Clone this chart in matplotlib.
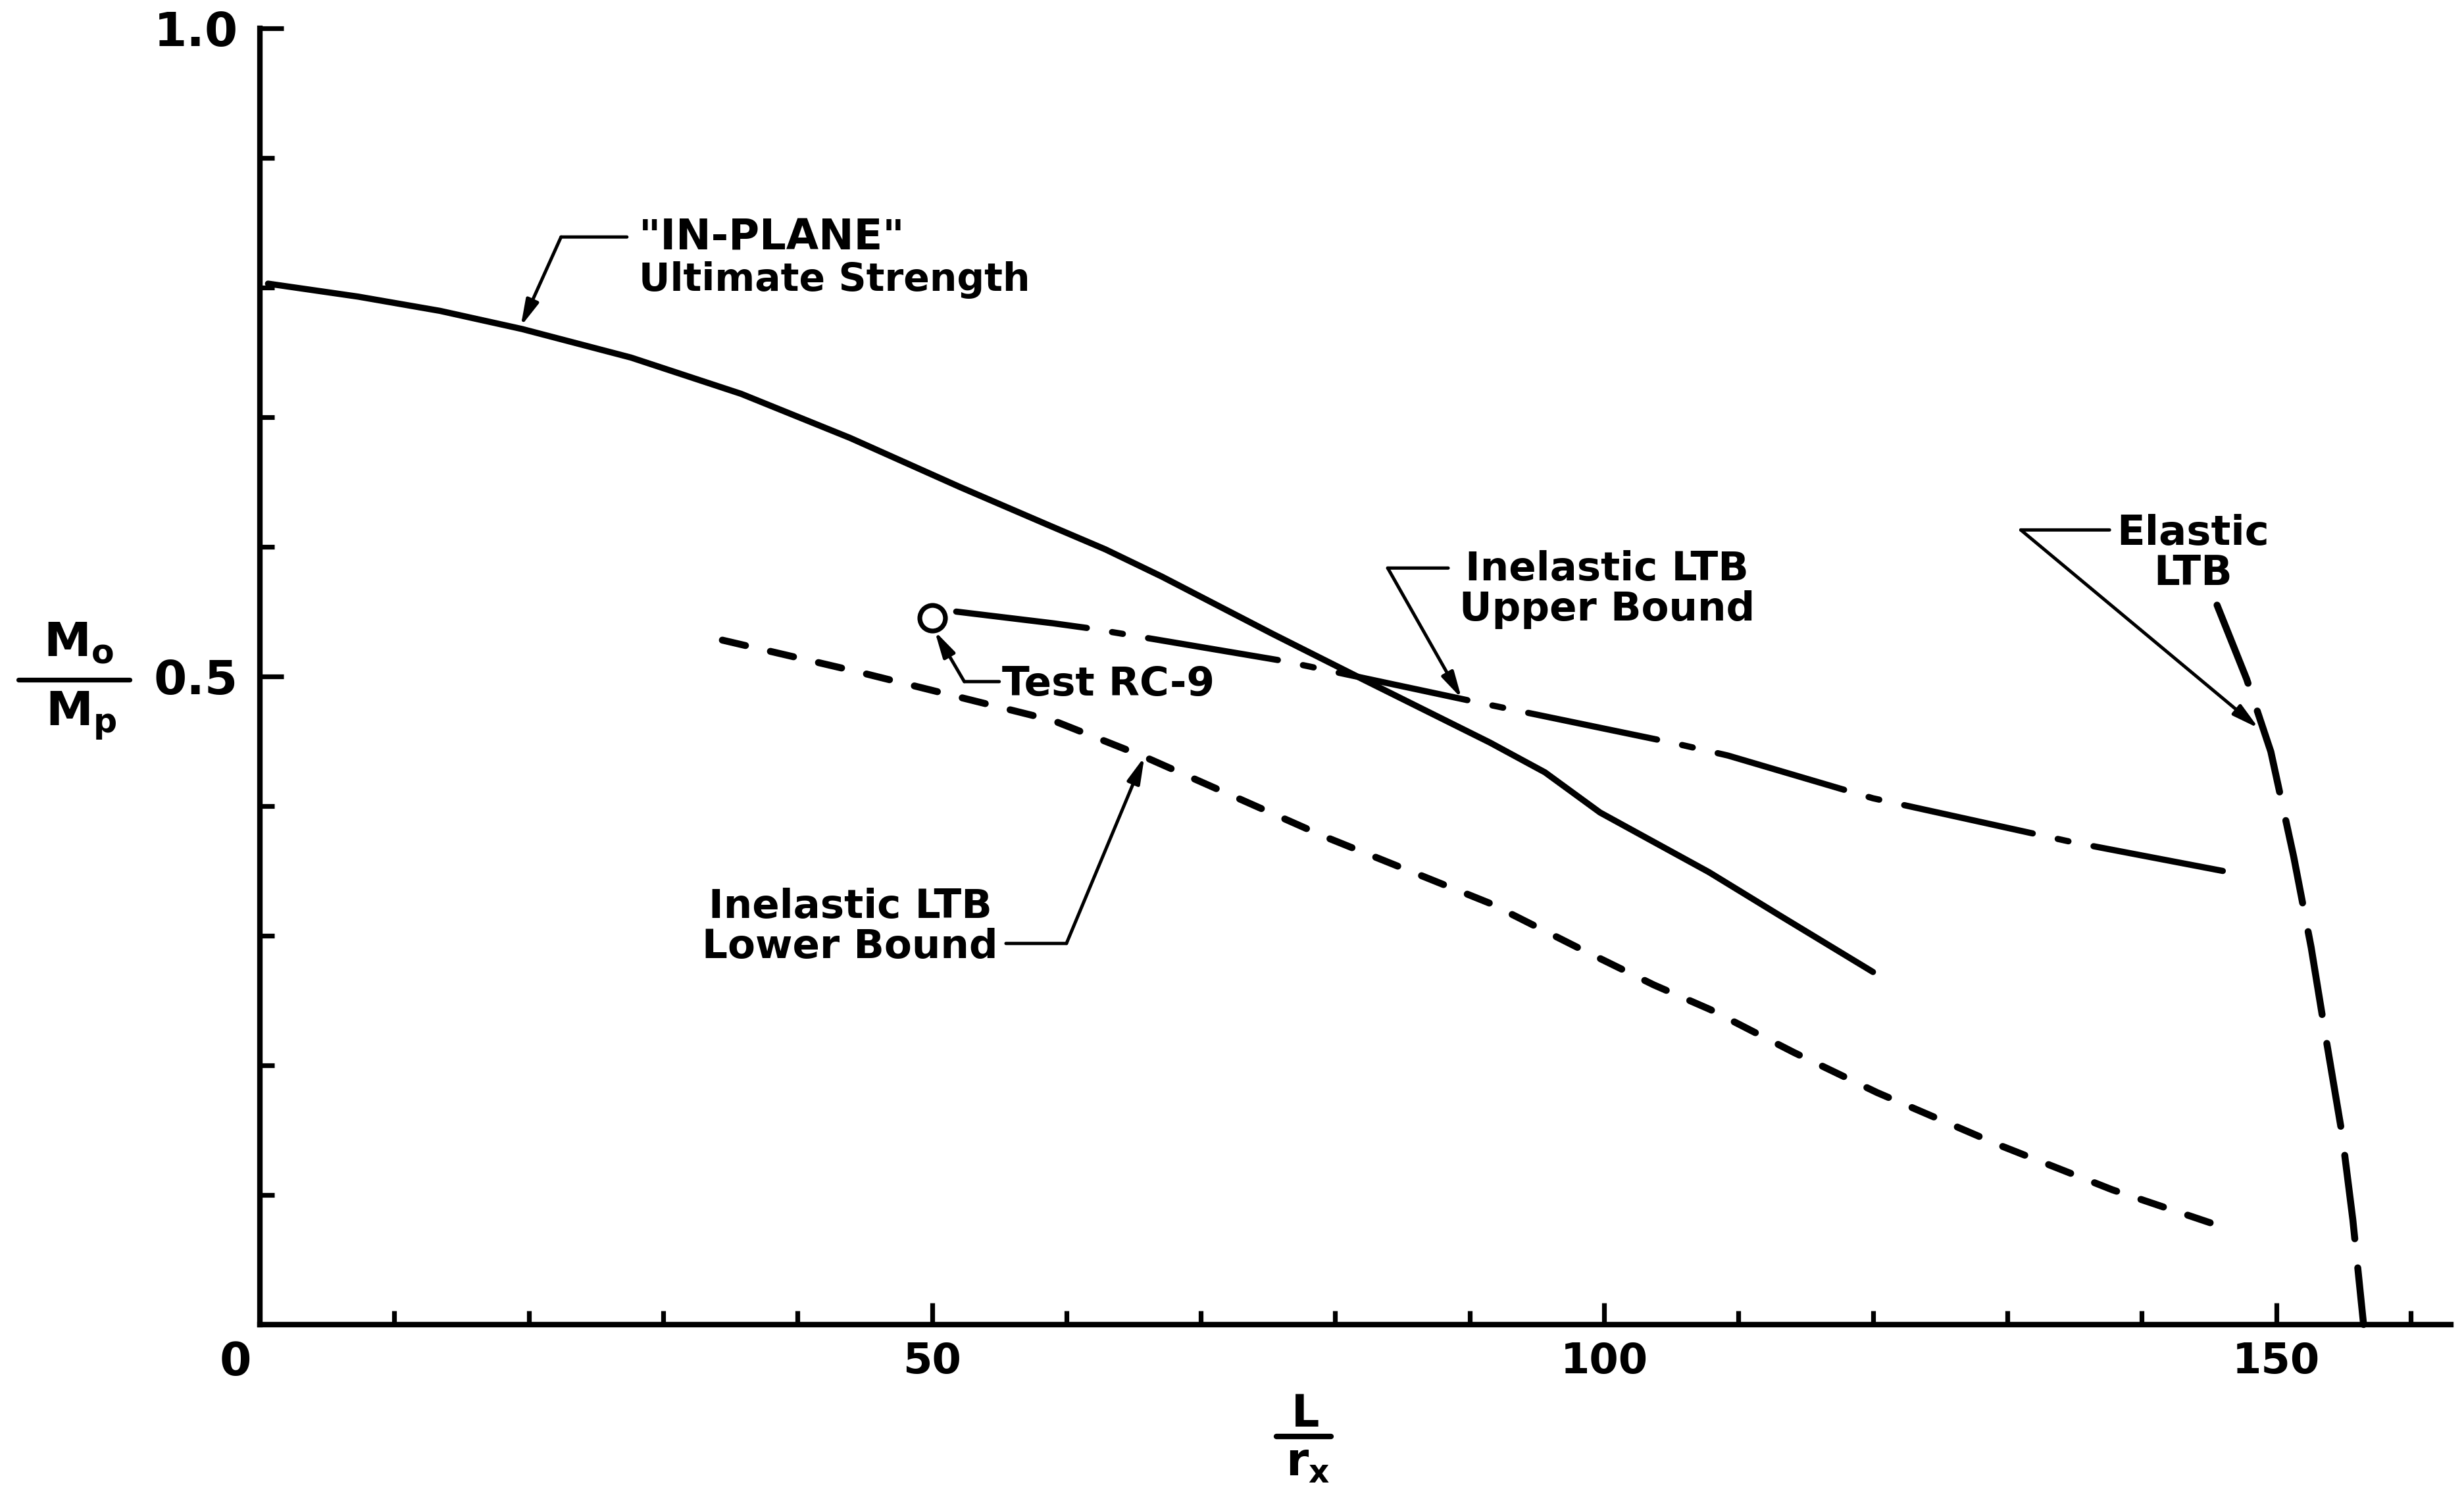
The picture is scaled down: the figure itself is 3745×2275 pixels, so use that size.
import numpy as np
import matplotlib
matplotlib.use("Agg")
import matplotlib.pyplot as plt
from matplotlib.lines import Line2D
from matplotlib.ticker import FixedLocator

plt.rcParams['font.family'] = ['DejaVu Sans']
plt.rcParams['font.weight'] = 'bold'
plt.rcParams['lines.scale_dashes'] = False

# curves (x = L/r_x, y = Mo/Mp)
inplane_x = [0.6, 7.3, 13.4, 19.5, 27.6, 35.8, 43.9, 52.1, 58.6, 62.9, 67.1, 75.3, 82.2,
             91.5, 95.6, 99.7, 107.8, 113.0, 120.0]
inplane_y = [0.803, 0.793, 0.782, 0.768, 0.746, 0.718, 0.684, 0.646, 0.617, 0.598, 0.577,
             0.533, 0.497, 0.449, 0.426, 0.395, 0.349, 0.316, 0.272]

upper_x = [51.8, 59.0, 61.8, 76.1, 82.0, 91.5, 105.0, 109.2, 120.0, 134.9, 146.5]
upper_y = [0.550, 0.541, 0.537, 0.512, 0.499, 0.478, 0.449, 0.439, 0.406, 0.372, 0.349]

lower_x = [34.4, 44.3, 59.0, 65.8, 79.3, 91.5, 98.2, 103.7, 107.9, 114.1, 120.3, 129.5,
           137.8, 146.1]
lower_y = [0.528, 0.504, 0.466, 0.438, 0.376, 0.325, 0.290, 0.262, 0.243, 0.210, 0.179,
           0.138, 0.104, 0.075]

elastic_x = [145.6, 147.8, 149.6, 151.3, 152.6, 153.7, 154.9, 155.7, 156.5]
elastic_y = [0.555, 0.498, 0.442, 0.361, 0.291, 0.221, 0.147, 0.081, 0.0]

test_x = [50.0]
test_y = [0.545]

# axis ticks
x_major = [50, 100, 150]
x_major_labels = ['50', '100', '150']
x_minor = [10, 20, 30, 40, 60, 70, 80, 90, 110, 120, 130, 140, 160]
y_major = [0.5, 1.0]
y_major_labels = ['0.5', '1.0']
y_minor = [0.1, 0.2, 0.3, 0.4, 0.6, 0.7, 0.8, 0.9]

fig = plt.figure(figsize=(18.725, 11.375), dpi=200)
ax = fig.add_axes([0.1055, 0.1152, 0.8892, 0.8659])
ax.set_xlim(0, 163.0)
ax.set_ylim(0, 1.0)

# hide the top and right axes
for side in ('top', 'right'):
    ax.spines[side].set_visible(False)
for side in ('left', 'bottom'):
    ax.spines[side].set_linewidth(3)

ax.xaxis.set_major_locator(FixedLocator(x_major))
ax.xaxis.set_minor_locator(FixedLocator(x_minor))
ax.set_xticklabels(x_major_labels)
ax.yaxis.set_major_locator(FixedLocator(y_major))
ax.yaxis.set_minor_locator(FixedLocator(y_minor))
ax.set_yticklabels(y_major_labels)
ax.tick_params(axis='both', which='both', direction='in', width=2.6, color='black')
ax.tick_params(axis='x', which='major', length=12, pad=9, labelsize=23)
ax.tick_params(axis='x', which='minor', length=7.5)
ax.tick_params(axis='y', which='major', length=13, pad=12, labelsize=26)
ax.tick_params(axis='y', which='minor', length=8)
ax.text(-1.8, -0.029, '0', fontsize=25, ha='center', va='center', clip_on=False)

# the curves
ax.plot(inplane_x, inplane_y, color='black', lw=3.4, solid_capstyle='round')
ax.plot(upper_x, upper_y, color='black', lw=3.4, dash_capstyle='round',
        linestyle=(0, (72, 14, 6, 14)))
ax.plot(lower_x, lower_y, color='black', lw=3.8, dash_capstyle='round',
        linestyle=(0, (13, 14)))
ax.plot(elastic_x, elastic_y, color='black', lw=3.8, dash_capstyle='round',
        linestyle=(0, (46, 16)), clip_on=False)
ax.plot(test_x, test_y, 'o', ms=14, mfc='white', mec='black', mew=2.6)

# labels with leaders
arrow = dict(arrowstyle='-|>,head_length=0.6,head_width=0.15', mutation_scale=20,
             lw=1.8, color='black', shrinkA=0, shrinkB=0)
leader = dict(arrowstyle='-', lw=1.8, color='black', shrinkA=0, shrinkB=0)


def callout(lines, text_x, base_y, ha, size, elbow, leader_end, tip):
    for s, yy, fs in zip(lines, base_y, size):
        ax.text(text_x, yy, s, ha=ha, va='baseline', fontsize=fs, color='black')
    ax.annotate('', xy=leader_end, xytext=elbow, arrowprops=leader)
    ax.annotate('', xy=tip, xytext=elbow, arrowprops=arrow)


callout(['"IN-PLANE"', 'Ultimate Strength'], 28.2, [0.829, 0.7975], 'left', [23, 21],
        (22.4, 0.839), (27.3, 0.839), (19.4, 0.770))
callout(['Test RC-9'], 55.2, [0.4853], 'left', [22],
        (52.4, 0.496), (55.0, 0.496), (50.2, 0.535))
callout(['Inelastic LTB', 'Upper Bound'], 100.2, [0.5741, 0.5431], 'center', [22, 22],
        (83.9, 0.5836), (88.4, 0.5836), (89.4, 0.483))
callout(['Inelastic LTB', 'Lower Bound'], 43.9, [0.3137, 0.2825], 'center', [22, 22],
        (60.0, 0.294), (55.5, 0.294), (65.8, 0.438))
callout(['Elastic', 'LTB'], 143.8, [0.6013, 0.5707], 'center', [22.5, 22.5],
        (131.0, 0.613), (137.6, 0.613), (148.7, 0.460))

# axis titles drawn as stacked fractions
fig.text(0.0318, 0.56176, r'M$_\mathbf{o}$', fontsize=26, ha='center', va='baseline')
fig.add_artist(Line2D([0.00748, 0.05260], [0.54593, 0.54593], color='black', lw=2.6,
                      solid_capstyle='round'))
fig.text(0.0330, 0.51516, r'M$_\mathbf{p}$', fontsize=26, ha='center', va='baseline')

fig.text(0.52977, 0.04703, 'L', fontsize=24, ha='center', va='baseline')
fig.add_artist(Line2D([0.51802, 0.54019], [0.04044, 0.04044], color='black', lw=3,
                      solid_capstyle='round'))
fig.text(0.5307, 0.01407, r'r$_\mathbf{x}$', fontsize=25, ha='center', va='baseline')

fig.savefig('out.png', dpi=200, facecolor='white')
